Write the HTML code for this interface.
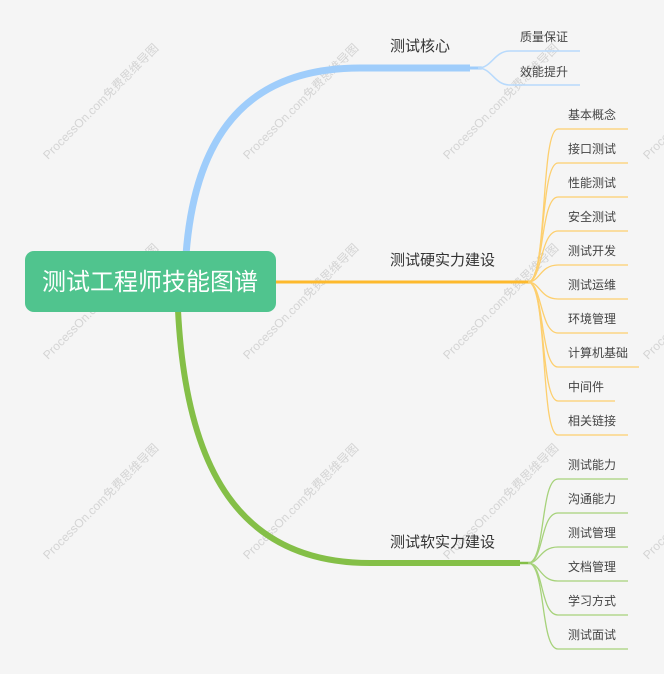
<!DOCTYPE html>
<html><head><meta charset="utf-8"><style>
html,body{margin:0;padding:0;background:#f5f5f5;}
body{width:664px;height:674px;overflow:hidden;position:relative;font-family:"Liberation Sans","Noto Sans CJK SC",sans-serif;}
svg{position:absolute;left:0;top:0;}
</style></head><body>
<svg width="664" height="674" viewBox="0 0 664 674" xmlns="http://www.w3.org/2000/svg" font-family="Liberation Sans, Noto Sans CJK SC, sans-serif">
<g fill="#d4d4d4" font-size="12">
<text transform="translate(48,160) rotate(-45)">ProcessOn.com免费思维导图</text>
<text transform="translate(248,160) rotate(-45)">ProcessOn.com免费思维导图</text>
<text transform="translate(448,160) rotate(-45)">ProcessOn.com免费思维导图</text>
<text transform="translate(648,160) rotate(-45)">ProcessOn.com免费思维导图</text>
<text transform="translate(48,360) rotate(-45)">ProcessOn.com免费思维导图</text>
<text transform="translate(248,360) rotate(-45)">ProcessOn.com免费思维导图</text>
<text transform="translate(448,360) rotate(-45)">ProcessOn.com免费思维导图</text>
<text transform="translate(648,360) rotate(-45)">ProcessOn.com免费思维导图</text>
<text transform="translate(48,560) rotate(-45)">ProcessOn.com免费思维导图</text>
<text transform="translate(248,560) rotate(-45)">ProcessOn.com免费思维导图</text>
<text transform="translate(448,560) rotate(-45)">ProcessOn.com免费思维导图</text>
<text transform="translate(648,560) rotate(-45)">ProcessOn.com免费思维导图</text>
</g>
<path d="M186,255 C196,120 260,68 360,68 L470,68" fill="none" stroke="#9fcdfb" stroke-width="7"/>
<path d="M470,68 L482,68" stroke="#9fcdfb" stroke-width="3"/>
<g fill="none" stroke="#b8dafc" stroke-width="1.5">
<path d="M478,68 C492,68 494,51 510,51 L580,51"/>
<path d="M478,68 C492,68 494,85 510,85 L580,85"/>
</g>
<path d="M276,282 L530,282" stroke="#fdb92c" stroke-width="3"/>
<g fill="none" stroke="#fdcf6e" stroke-width="1.3">
<path d="M528,282 C548,282 540,129 558,129 L628,129"/>
<path d="M528,282 C546,282 540,163 558,163 L628,163"/>
<path d="M528,282 C544,282 540,197 558,197 L628,197"/>
<path d="M528,282 C542,282 540,231 558,231 L628,231"/>
<path d="M528,282 C540,282 540,265 558,265 L628,265"/>
<path d="M528,282 C540,282 540,299 558,299 L628,299"/>
<path d="M528,282 C542,282 540,333 558,333 L628,333"/>
<path d="M528,282 C544,282 540,367 558,367 L639,367"/>
<path d="M528,282 C546,282 540,401 558,401 L615,401"/>
<path d="M528,282 C548,282 540,435 558,435 L628,435"/>
</g>
<path d="M178,310 C186,470 240,563 370,563 L520,563" fill="none" stroke="#84bf47" stroke-width="6"/>
<path d="M518,563 L532,563" stroke="#84bf47" stroke-width="2.5"/>
<g fill="none" stroke="#a6d27a" stroke-width="1.3">
<path d="M528,563 C546,563 540,479 558,479 L628,479"/>
<path d="M528,563 C544,563 540,513 558,513 L628,513"/>
<path d="M528,563 C540,563 540,547 558,547 L628,547"/>
<path d="M528,563 C540,563 540,581 558,581 L628,581"/>
<path d="M528,563 C544,563 540,615 558,615 L628,615"/>
<path d="M528,563 C546,563 540,649 558,649 L628,649"/>
</g>
<rect x="25" y="251" width="251" height="61" rx="9" fill="#50c48e"/>
<text x="150" y="290" fill="#fff" font-size="24" text-anchor="middle">测试工程师技能图谱</text>
<g fill="#333" font-size="15">
<text x="390" y="51">测试核心</text>
<text x="390" y="265">测试硬实力建设</text>
<text x="390" y="547">测试软实力建设</text>
</g>
<g fill="#444" font-size="12">
<text x="520" y="41">质量保证</text>
<text x="520" y="76">效能提升</text>
<text x="568" y="119">基本概念</text>
<text x="568" y="153">接口测试</text>
<text x="568" y="187">性能测试</text>
<text x="568" y="221">安全测试</text>
<text x="568" y="255">测试开发</text>
<text x="568" y="289">测试运维</text>
<text x="568" y="323">环境管理</text>
<text x="568" y="357">计算机基础</text>
<text x="568" y="391">中间件</text>
<text x="568" y="425">相关链接</text>
<text x="568" y="469">测试能力</text>
<text x="568" y="503">沟通能力</text>
<text x="568" y="537">测试管理</text>
<text x="568" y="571">文档管理</text>
<text x="568" y="605">学习方式</text>
<text x="568" y="639">测试面试</text>
</g>
</svg>
</body></html>
